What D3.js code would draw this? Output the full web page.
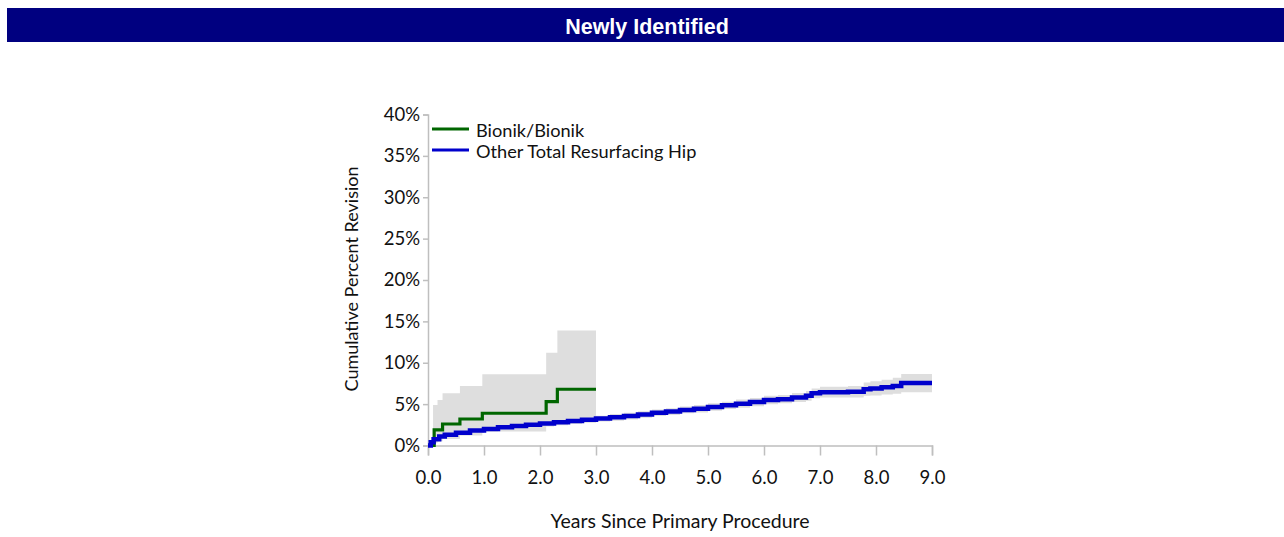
<!DOCTYPE html>
<html>
<head>
<meta charset="utf-8">
<script src="https://cdn.jsdelivr.net/npm/d3@7"></script>
<style>
  body { margin: 0; background: #fff; }
  text { font-family: Lato, "Open Sans", sans-serif; fill: #111; }
</style>
</head>
<body>
<svg id="chart" width="1284" height="537"></svg>
<script>
// Panel heading and axis labels
const panelTitle = "Newly Identified";
const xAxisTitle = "Years Since Primary Procedure";
const yAxisTitle = "Cumulative Percent Revision";
const xTickValues = [0, 1, 2, 3, 4, 5, 6, 7, 8, 9];
const yTickValues = [0, 5, 10, 15, 20, 25, 30, 35, 40];
const seriesNames = ["Bionik/Bionik", "Other Total Resurfacing Hip"];

// Bionik/Bionik: Kaplan-Meier steps (years, cumulative % revision)
const bionikTimes  = [0, 0.11, 0.26, 0.57, 0.97, 2.11, 2.31, 3.0];
const bionikValues = [0, 1.9, 2.6, 3.2, 3.9, 5.3, 6.8, 6.8];
// Bionik/Bionik: 95% confidence band
const bionikBandTimes = [0.09, 0.17, 0.26, 0.57, 0.97, 2.11, 2.31, 3.0];
const bionikUpper     = [4.9, 5.5, 6.3, 7.2, 8.6, 11.2, 13.9, 13.9];
const bionikLower     = [0.3, 0.5, 0.8, 1.2, 1.7, 2.6, 3.0, 3.0];

// Other Total Resurfacing Hip: cumulative % revision
const otherTimes  = [0, 0.05, 0.1, 0.2, 0.3, 0.5, 0.75, 1.0, 1.25, 1.5, 1.75, 2.0, 2.25, 2.5, 2.75, 3.0,
                     3.25, 3.5, 3.75, 4.0, 4.25, 4.5, 4.75, 5.0, 5.25, 5.5, 5.75, 6.0, 6.25, 6.5, 6.75,
                     6.85, 7.0, 7.25, 7.5, 7.78, 7.9, 8.1, 8.3, 8.45, 9.0];
const otherValues = [0, 0.4, 0.75, 1.1, 1.3, 1.55, 1.8, 2.0, 2.2, 2.35, 2.5, 2.65, 2.8, 2.95, 3.1, 3.25,
                     3.4, 3.55, 3.75, 3.95, 4.1, 4.3, 4.45, 4.65, 4.85, 5.05, 5.25, 5.5, 5.6, 5.8, 6.0,
                     6.3, 6.45, 6.45, 6.5, 6.8, 6.9, 7.05, 7.2, 7.55, 7.55];
const otherUpper  = [0, 0.6, 1.0, 1.4, 1.6, 1.85, 2.1, 2.3, 2.55, 2.7, 2.85, 3.0, 3.15, 3.3, 3.45, 3.6,
                     3.8, 3.95, 4.15, 4.35, 4.5, 4.7, 4.9, 5.1, 5.3, 5.55, 5.75, 6.0, 6.1, 6.35, 6.6,
                     6.9, 7.1, 7.1, 7.2, 7.6, 7.75, 7.95, 8.2, 8.65, 8.65];
const otherLower  = [0, 0.2, 0.5, 0.8, 1.0, 1.25, 1.5, 1.7, 1.85, 2.0, 2.15, 2.3, 2.45, 2.6, 2.75, 2.9,
                     3.0, 3.15, 3.35, 3.55, 3.7, 3.9, 4.0, 4.2, 4.4, 4.55, 4.75, 5.0, 5.1, 5.25, 5.4,
                     5.7, 5.8, 5.8, 5.8, 6.0, 6.05, 6.15, 6.25, 6.45, 6.45];

const colors = { bionik: "#006600", other: "#0000cc", band: "#dedede", axis: "#bfbfbf", header: "#000080" };

const svg = d3.select("#chart");

// Header bar
svg.append("rect").attr("x", 7).attr("y", 8).attr("width", 1277).attr("height", 34).attr("fill", colors.header);
svg.append("text")
  .attr("x", 647).attr("y", 34)
  .attr("text-anchor", "middle")
  .style("font-family", "'Liberation Sans', Arial, sans-serif")
  .style("font-weight", "bold").style("font-size", "21.5px").style("fill", "#fff")
  .text(panelTitle);

const x = d3.scaleLinear().domain([0, 9]).range([428, 932]);
const y = d3.scaleLinear().domain([0, 40]).range([445.5, 114.5]);

const tickFont = "18.5px";
const legendFont = "18.2px";

// Confidence bands
const band = (times, lo, hi) => d3.area()
  .curve(d3.curveStepAfter)
  .x((d, i) => x(times[i]))
  .y0((d, i) => y(lo[i]))
  .y1((d, i) => y(hi[i]))(times);

svg.append("path").attr("d", band(bionikBandTimes, bionikLower, bionikUpper)).attr("fill", colors.band);
svg.append("path").attr("d", band(otherTimes, otherLower, otherUpper)).attr("fill", colors.band);

// Axes
const xAxis = d3.axisBottom(x).tickValues(xTickValues).tickFormat(d3.format(".1f")).tickSize(10).tickPadding(15);
const gx = svg.append("g").attr("transform", `translate(0,${y(0)})`).call(xAxis);
gx.select(".domain").attr("stroke", colors.axis).attr("stroke-width", 1.5);
gx.selectAll(".tick line").attr("stroke", colors.axis).attr("stroke-width", 1.5);
gx.selectAll("text").style("font-size", tickFont).attr("fill", "#111");

const yAxis = d3.axisLeft(y).tickValues(yTickValues).tickFormat(d => d + "%").tickSize(5).tickPadding(3);
const gy = svg.append("g").attr("transform", `translate(${x(0)},0)`).call(yAxis);
gy.select(".domain").attr("stroke", colors.axis).attr("stroke-width", 1.5);
gy.selectAll(".tick line").attr("stroke", colors.axis).attr("stroke-width", 1.5);
gy.selectAll("text").style("font-size", tickFont).attr("fill", "#111");

// Survival curves
const stepLine = (times, vals) => d3.line()
  .curve(d3.curveStepAfter)
  .x((d, i) => x(times[i]))
  .y((d, i) => y(vals[i]))(times);

svg.append("path").attr("d", stepLine(bionikTimes, bionikValues))
  .attr("fill", "none").attr("stroke", colors.bionik).attr("stroke-width", 3.2);
svg.append("path").attr("d", stepLine(otherTimes, otherValues))
  .attr("fill", "none").attr("stroke", colors.other).attr("stroke-width", 4.5);

// Axis titles
svg.append("text").attr("x", 680).attr("y", 521).attr("dy", "0.35em")
  .attr("text-anchor", "middle").style("font-size", "19.5px").text(xAxisTitle);
svg.append("text").attr("transform", "translate(352,279) rotate(-90)").attr("dy", "0.35em")
  .attr("text-anchor", "middle").style("font-size", "18px").text(yAxisTitle);

// Legend
const legendColors = [colors.bionik, colors.other];
const legend = svg.append("g");
seriesNames.forEach((name, i) => {
  const ly = 129 + i * 21;
  legend.append("line").attr("x1", 432).attr("x2", 469).attr("y1", ly).attr("y2", ly)
    .attr("stroke", legendColors[i]).attr("stroke-width", 3.2);
  legend.append("text").attr("x", 476).attr("y", ly + 2).attr("dy", "0.35em")
    .style("font-size", legendFont).text(name);
});
</script>
</body>
</html>
